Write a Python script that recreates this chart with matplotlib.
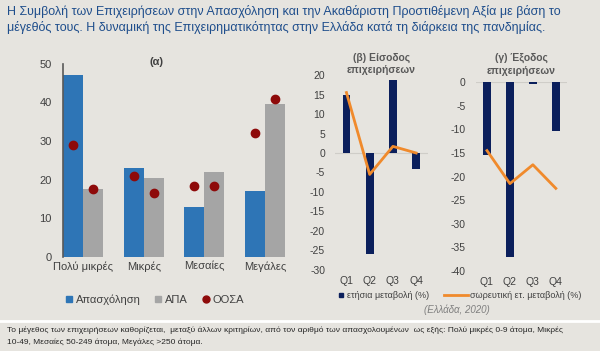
import matplotlib
matplotlib.use("Agg")
import matplotlib.pyplot as plt
from matplotlib.lines import Line2D
import numpy as np

# ---- data ----
sizes = ["Πολύ μικρές", "Μικρές", "Μεσαίες", "Μεγάλες"]
employment = [47, 23, 13, 17]
gva = [17.5, 20.5, 22, 39.5]
oecd_emp = [29, 21, 18.3, 32]
oecd_gva = [17.5, 16.5, 18.3, 41]

quarters = ["Q1", "Q2", "Q3", "Q4"]
entry_yoy = [15, -26, 18.7, -4]
entry_cum = [15.5, -5.5, 1.7, 0]
exit_yoy = [-15.5, -37, -0.5, -10.3]
exit_cum = [-14.5, -21.5, -17.5, -22.5]

BG = "#e6e4df"
BLUE = "#2e75b6"
GRAY = "#a5a5a5"
RED = "#8e0a0a"
NAVY = "#0b1f5c"
ORANGE = "#f08a2c"
TXT = "#404040"
TITLE = "#1f4e8c"

plt.rcParams["font.family"] = ["Liberation Sans", "DejaVu Sans"]
plt.rcParams["axes.unicode_minus"] = False

fig = plt.figure(figsize=(6.0, 3.51), dpi=100, facecolor=BG)

fig.text(0.012, 0.966, "Η Συμβολή των Επιχειρήσεων στην Απασχόληση και την Ακαθάριστη Προστιθέμενη Αξία με βάση το",
         color=TITLE, fontsize=9, va="center")
fig.text(0.012, 0.923, "μέγεθός τους. Η δυναμική της Επιχειρηματικότητας στην Ελλάδα κατά τη διάρκεια της πανδημίας.",
         color=TITLE, fontsize=9, va="center")

# ---- panel (a) ----
ax = fig.add_axes([0.105, 0.268, 0.37, 0.55])
ax.set_facecolor(BG)
x = np.arange(len(sizes))
w = 0.33
ax.bar(x - w / 2, employment, w, color=BLUE)
ax.bar(x + w / 2, gva, w, color=GRAY)
ax.plot(x - w / 2, oecd_emp, "o", color=RED, ms=6)
ax.plot(x + w / 2, oecd_gva, "o", color=RED, ms=6)
ax.set_xlim(-w, len(sizes) - 1 + w)
ax.set_ylim(0, 50)
ax.set_yticks(range(0, 51, 10))
ax.set_xticks(x)
ax.set_xticklabels(sizes, fontsize=9, color=TXT)
for s in ["top", "right", "bottom"]:
    ax.spines[s].set_visible(False)
ax.spines["left"].set_color("#595959")
ax.spines["left"].set_linewidth(1.2)
ax.tick_params(length=0, labelsize=8, colors=TXT, pad=8)
ax.tick_params(axis="x", pad=3)
ax.text(0.42, 1.01, "(α)", transform=ax.transAxes, ha="center", va="center", fontsize=8, color=TXT,
        fontweight="bold")

h_a = [Line2D([], [], marker="s", ls="", color=BLUE, ms=5),
       Line2D([], [], marker="s", ls="", color=GRAY, ms=5),
       Line2D([], [], marker="o", ls="", color=RED, ms=5)]
fig.legend(h_a, ["Απασχόληση", "ΑΠΑ", "ΟΟΣΑ"], loc="center", bbox_to_anchor=(0.258, 0.145), ncol=3,
           frameon=False, fontsize=8, handlelength=0.6, handletextpad=0.3, columnspacing=1.3,
           labelcolor=TXT)

# ---- panels (b) and (c) ----
def quarter_panel(rect, yoy, cum, ylim, step, title, title_y):
    a = fig.add_axes(rect)
    a.set_facecolor(BG)
    q = np.arange(len(quarters))
    a.axhline(0, color="#cfcdc8", lw=0.8, zorder=0)
    a.bar(q, yoy, 0.33, color=NAVY, zorder=2)
    a.plot(q, cum, color=ORANGE, lw=2, zorder=3)
    a.set_xlim(-0.5, len(quarters) - 0.5)
    a.set_ylim(*ylim)
    a.set_yticks(np.arange(ylim[0], ylim[1] + 1, step))
    a.set_xticks(q)
    a.set_xticklabels(quarters)
    for s in a.spines.values():
        s.set_visible(False)
    a.tick_params(length=0, labelsize=7.5, colors=TXT)
    a.tick_params(axis="y", pad=7)
    a.tick_params(axis="x", pad=4)
    a.text(0.5, title_y, title, transform=a.transAxes, ha="center", va="bottom", fontsize=7.5,
           color="#595959", fontweight="bold", linespacing=1.3)
    return a

quarter_panel([0.558, 0.2308, 0.155, 0.5555], entry_yoy, entry_cum, (-30, 20), 5,
              "(β) Είσοδος\nεπιχειρήσεων", 1.0)
quarter_panel([0.7925, 0.228, 0.153, 0.538], exit_yoy, exit_cum, (-40, 0), 5,
              "(γ) Έξοδος\nεπιχειρήσεων", 1.035)

fig.legend([Line2D([], [], marker="s", ls="", color=NAVY, ms=3.5)], ["ετήσια μεταβολή (%)"],
           loc="center", bbox_to_anchor=(0.64, 0.158), frameon=False, fontsize=6.5,
           handlelength=0.5, handletextpad=0.4, labelcolor=TXT)
fig.legend([Line2D([], [], color=ORANGE, lw=2)], ["σωρευτική ετ. μεταβολή (%)"],
           loc="center", bbox_to_anchor=(0.855, 0.158), frameon=False, fontsize=6.5,
           handlelength=2.6, handletextpad=0.3, labelcolor=TXT)

fig.text(0.762, 0.117, "(Ελλάδα, 2020)", ha="center", va="center", fontsize=7, style="italic",
         color="#7f7f7f")

# separator and footnote
fig.add_artist(Line2D([0, 1], [0.086, 0.086], color="white", lw=2, transform=fig.transFigure))
fig.text(0.012, 0.058, "Το μέγεθος των επιχειρήσεων καθορίζεται,  μεταξύ άλλων κριτηρίων, από τον αριθμό των "
         "απασχολουμένων  ως εξής: Πολύ μικρές 0-9 άτομα, Μικρές",
         fontsize=6, color="#262626", va="center")
fig.text(0.012, 0.025, "10-49, Μεσαίες 50-249 άτομα, Μεγάλες >250 άτομα.",
         fontsize=6, color="#262626", va="center")

fig.savefig("out.png", dpi=100, facecolor=BG)
